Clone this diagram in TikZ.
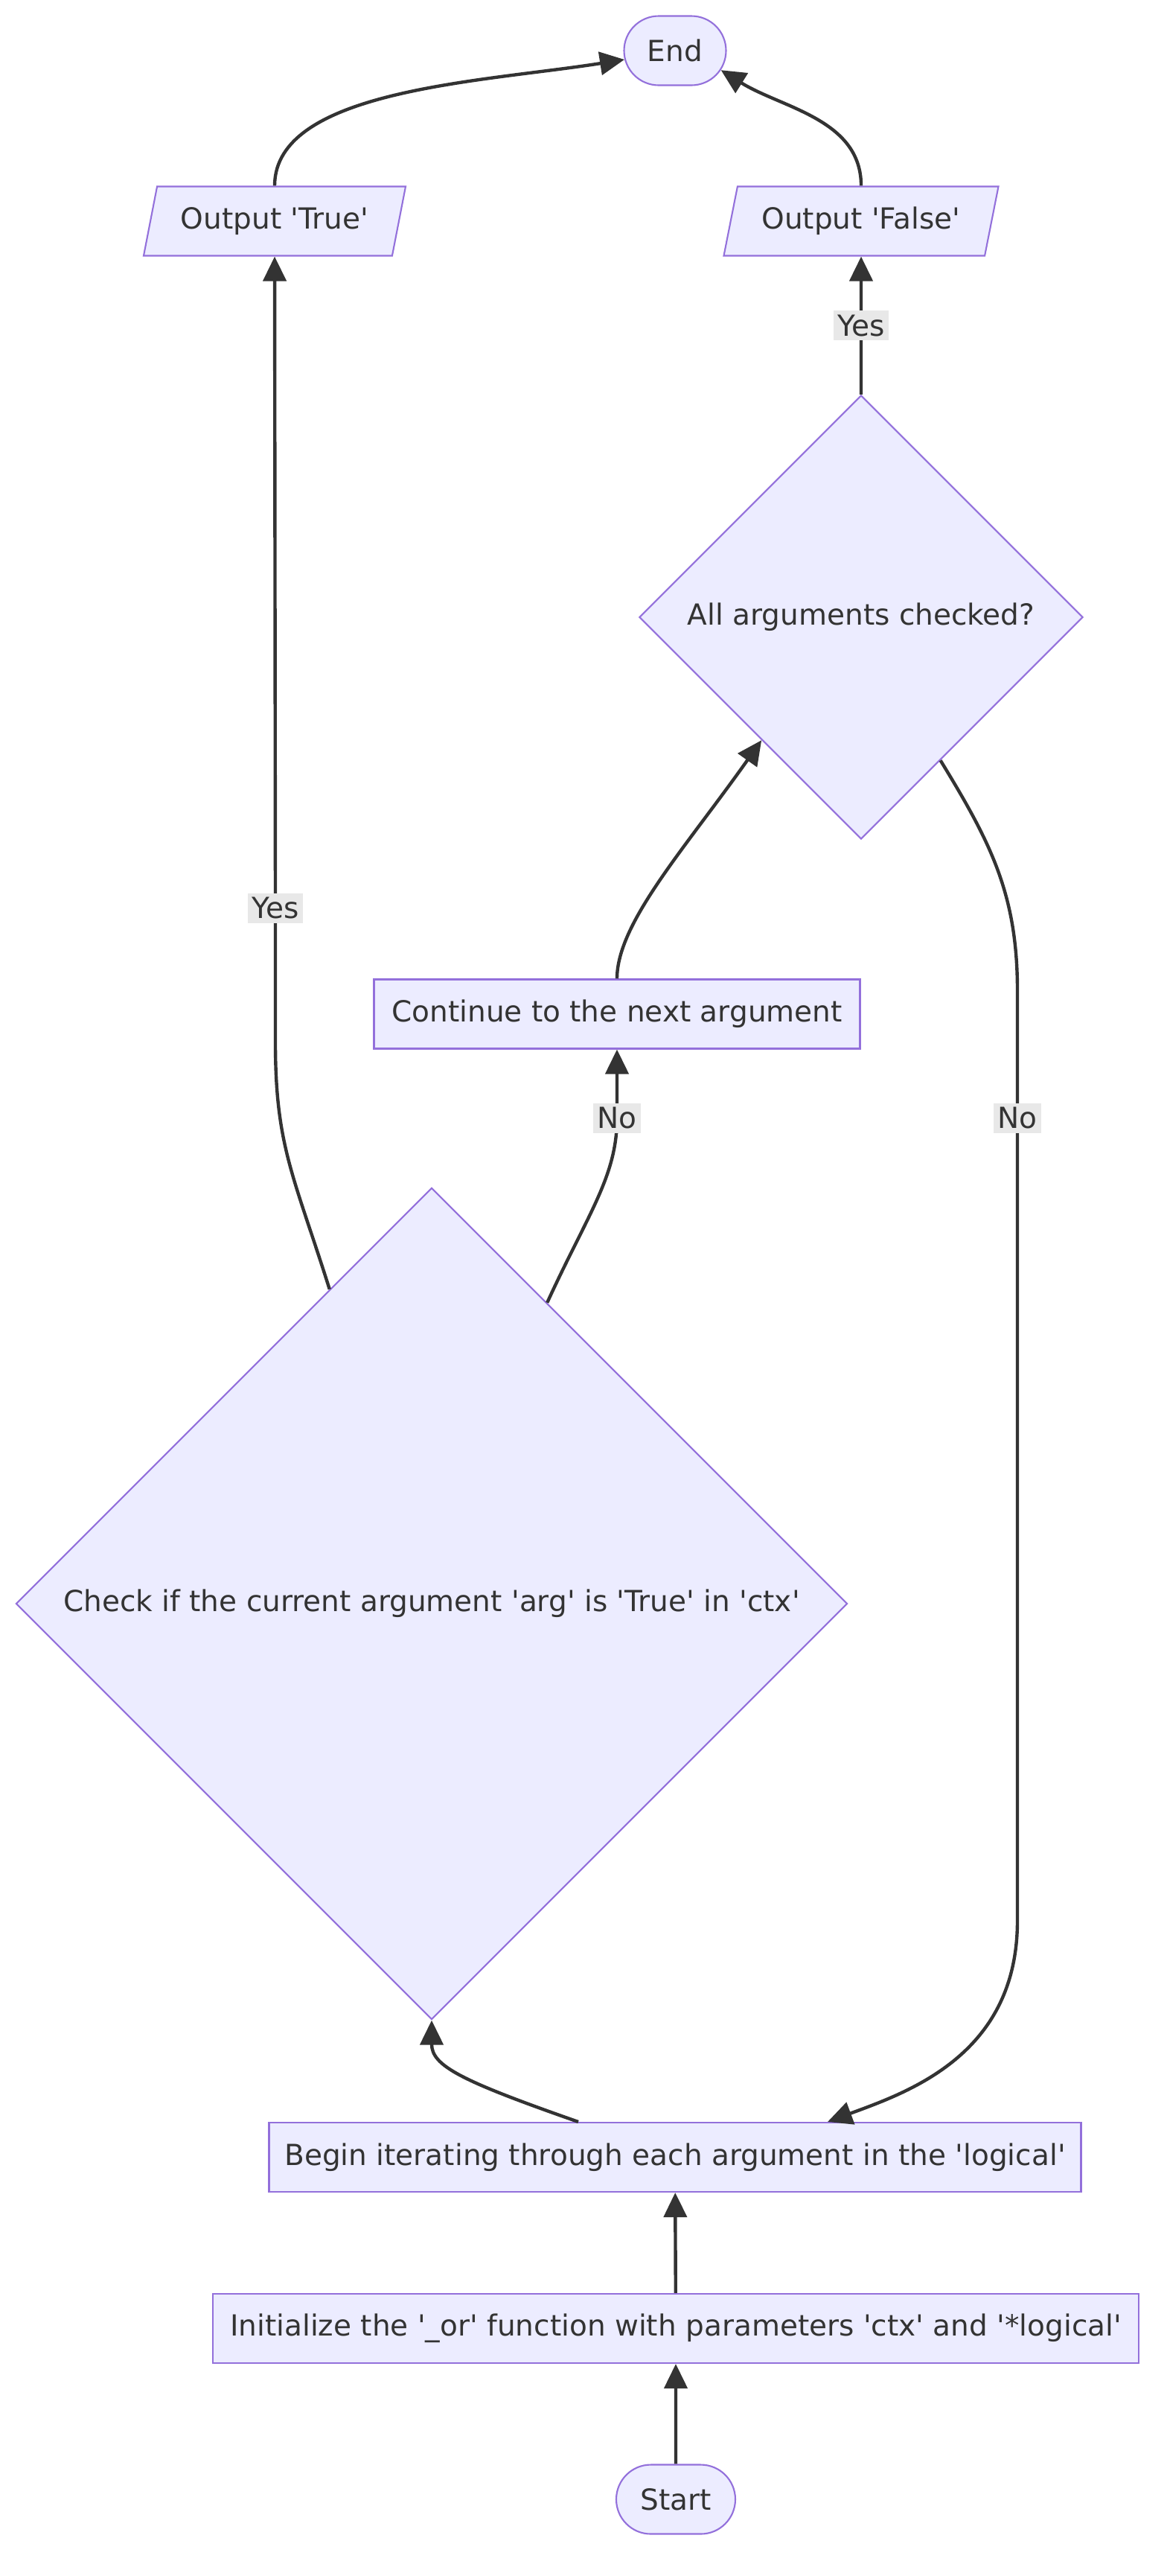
\documentclass[tikz,border=0pt]{standalone}
\usepackage{fontspec}
\setmainfont{DejaVu Sans}
\usetikzlibrary{arrows.meta}
\usetikzlibrary{calc}
\usetikzlibrary{shapes.geometric}
\usetikzlibrary{shapes.misc}
\definecolor{mmfill}{HTML}{ECECFF}
\definecolor{mmborder}{HTML}{9370DB}
\definecolor{mmtext}{HTML}{333333}
\definecolor{mmlabel}{HTML}{E8E8E8}
\newcommand{\sq}{\textquotesingle}
\tikzset{
  box/.style={draw=mmborder, fill=mmfill, line width=0.6pt, minimum height=0.93cm,
    inner sep=0pt, text=mmtext, font=\fontsize{11.1}{13}\selectfont},
  term/.style={box, rounded rectangle},
  io/.style={box, trapezium, trapezium left angle=64, trapezium right angle=116,
    trapezium stretches body},
  choice/.style={box, diamond, aspect=1},
  lbl/.style={fill=mmlabel, text=mmtext, inner sep=1.5pt, font=\fontsize{11.1}{13}\selectfont},
  link/.style={draw=mmtext, line width=1.25pt, -{Triangle[length=0.33cm,width=0.31cm]}}
}

\begin{document}
\begin{tikzpicture}
\useasboundingbox (0,0) rectangle (15.68,-34.60);
\node[term, minimum width=1.37cm] (endn) at (9.07,-0.68) {End};
\node[io, minimum width=3.52cm] (outT) at (3.69,-2.97) {Output \sq True\sq};
\node[io, minimum width=3.69cm] (outF) at (11.57,-2.97) {Output \sq False\sq};
\node[choice, minimum width=5.96cm, minimum height=5.96cm] (allchk) at (11.57,-8.29) {All arguments checked?};
\node[box, minimum width=6.53cm] (cont) at (8.29,-13.62) {Continue to the next argument};
\node[choice, minimum width=11.17cm, minimum height=11.17cm] (check) at (5.80,-21.54) {Check if the current argument \sq arg\sq{} is \sq True\sq{} in \sq ctx\sq};
\node[box, minimum width=10.91cm] (begin) at (9.07,-28.975) {Begin iterating through each argument in the \sq logical\sq};
\node[box, minimum width=12.44cm] (init) at (9.08,-31.275) {Initialize the \sq\_or\sq{} function with parameters \sq ctx\sq{} and \sq*logical\sq};
\node[term, minimum width=1.60cm] (start) at (9.08,-33.57) {Start};

\coordinate (bl) at ($(begin.north)+(-1.30,0)$);
\coordinate (br) at ($(begin.north)+(2.05,0)$);

\draw[link] (start) -- (init);
\draw[link] (init) -- (begin);
\draw[link] (bl) .. controls (6.2,-27.95) and (5.80,-27.75) .. (check.south);
\draw[link] (check.108) .. controls (3.95,-15.8) and (3.70,-15.4) .. (3.70,-14.0)
  -- (3.70,-12.20) node[lbl] {Yes} -- (outT.south);
\draw[link] (check.69) .. controls (7.9,-16.3) and (8.29,-15.8) .. (8.29,-15.02)
  node[lbl] {No} -- (cont.south);
\draw[link] (cont.north) .. controls (8.29,-12.4) and (9.2,-11.4) .. (allchk.231);
\draw[link] (allchk.north) -- node[lbl] {Yes} (outF.south);
\draw[link] (allchk.299) .. controls (13.3,-11.3) and (13.67,-12.0) .. (13.67,-13.3)
  -- (13.67,-15.02) node[lbl] {No} -- (13.67,-25.8)
  .. controls (13.67,-27.6) and (12.2,-28.1) .. (br);
\draw[link] (outT.north) .. controls (3.69,-1.2) and (6.5,-1.1) .. (endn.190);
\draw[link] (outF.north) .. controls (11.57,-1.6) and (10.5,-1.45) .. (endn.337);
\end{tikzpicture}
\end{document}
